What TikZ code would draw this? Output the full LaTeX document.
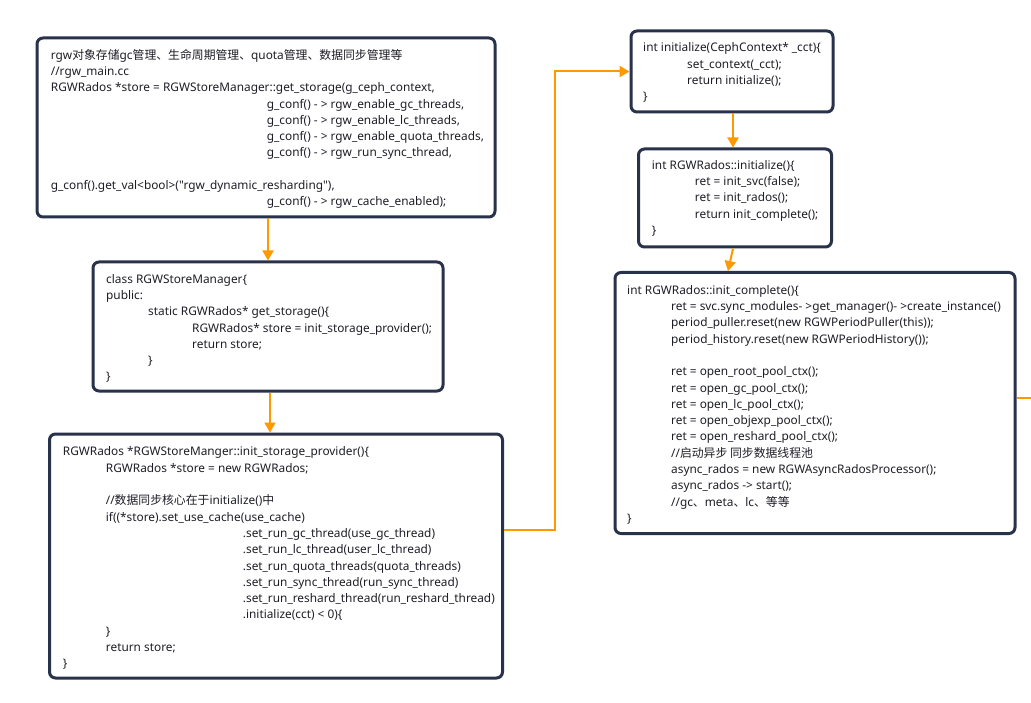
\documentclass[tikz,border=0pt]{standalone}
\usepackage{fontspec}
\setmainfont{Noto Sans}[Ligatures=TeXOff]
\newfontfamily\cjk{Noto Sans CJK SC}[Ligatures=TeXOff]
\usetikzlibrary{arrows.meta}
\definecolor{bord}{RGB}{40,50,75}
\definecolor{org}{RGB}{255,153,0}
\definecolor{txt}{RGB}{30,30,40}
\newcommand{\fl}{\rule{0pt}{11pt}}
\newcommand{\ind}[1]{\hspace*{#1pt}}
\newcommand{\zh}[1]{{\cjk #1}}
\begin{document}
\begin{tikzpicture}[x=1pt,y=-1pt,
 box/.style={draw=bord,line width=3pt,rounded corners=6pt,fill=white,inner sep=0pt},
 code/.style={anchor=north west,inner sep=0pt,align=left,text=txt,font=\fontsize{11.85}{16.3}\selectfont},
 arr/.style={draw=org,line width=2pt,-{Triangle[width=11pt,length=10pt]}},
 plain/.style={draw=org,line width=2pt}]
\useasboundingbox (0,0) rectangle (1031,703);
\fill[white] (0,0) rectangle (1031,703);

\node[box,minimum width=458pt,minimum height=179pt] (b1) at (266,127.5) {};
\node[box,minimum width=350pt,minimum height=129pt] (b2) at (268,326.5) {};
\node[box,minimum width=453pt,minimum height=244pt] (b3) at (276,556) {};
\node[box,minimum width=202pt,minimum height=81pt] (b4) at (732,71.5) {};
\node[box,minimum width=193pt,minimum height=98pt] (b5) at (735,198) {};
\node[box,minimum width=400pt,minimum height=261pt] (b6) at (815,403) {};

\node[code] (t1) at (50.7,48) {\fl rgw\zh{对象存储}gc\zh{管理、生命周期管理、}quota\zh{管理、数据同步管理等}\\
//rgw\_main.cc\\
RGWRados *store = RGWStoreManager::get\_storage(g\_ceph\_context,\\
\ind{216}g\_conf() - > rgw\_enable\_gc\_threads,\\
\ind{216}g\_conf() - > rgw\_enable\_lc\_threads,\\
\ind{216}g\_conf() - > rgw\_enable\_quota\_threads,\\
\ind{216}g\_conf() - > rgw\_run\_sync\_thread,\\
\mbox{}\\
g\_conf().get\_val<bool>("rgw\_dynamic\_resharding"),\\
\ind{216}g\_conf() - > rgw\_cache\_enabled);};

\node[code] (t2) at (106,272) {\fl class RGWStoreManager\{\\
public:\\
\ind{42}static RGWRados* get\_storage()\{\\
\ind{86}RGWRados* store = init\_storage\_provider();\\
\ind{86}return store;\\
\ind{42}\}\\
\}};

\node[code] (t3) at (62.7,444.7) {\fl RGWRados *RGWStoreManger::init\_storage\_provider()\{\\
\ind{43}RGWRados *store = new RGWRados;\\
\mbox{}\\
\ind{43}//\zh{数据同步核心在于}initialize()\zh{中}\\
\ind{43}if((*store).set\_use\_cache(use\_cache)\\
\ind{180}.set\_run\_gc\_thread(use\_gc\_thread)\\
\ind{180}.set\_run\_lc\_thread(user\_lc\_thread)\\
\ind{180}.set\_run\_quota\_threads(quota\_threads)\\
\ind{180}.set\_run\_sync\_thread(run\_sync\_thread)\\
\ind{180}.set\_run\_reshard\_thread(run\_reshard\_thread)\\
\ind{180}.initialize(cct) < 0)\{\\
\ind{43}\}\\
\ind{43}return store;\\
\}};

\node[code] (t4) at (643,40.7) {\fl int initialize(CephContext* \_cct)\{\\
\ind{44}set\_context(\_cct);\\
\ind{44}return initialize();\\
\}};

\node[code] (t5) at (651.7,158) {\fl int RGWRados::initialize()\{\\
\ind{43}ret = init\_svc(false);\\
\ind{43}ret = init\_rados();\\
\ind{43}return init\_complete();\\
\}};

\node[code] (t6) at (627,283) {\fl int RGWRados::init\_complete()\{\\
\ind{44}ret = svc.sync\_modules- >get\_manager()- >create\_instance()\\
\ind{44}period\_puller.reset(new RGWPeriodPuller(this));\\
\ind{44}period\_history.reset(new RGWPeriodHistory());\\
\mbox{}\\
\ind{44}ret = open\_root\_pool\_ctx();\\
\ind{44}ret = open\_gc\_pool\_ctx();\\
\ind{44}ret = open\_lc\_pool\_ctx();\\
\ind{44}ret = open\_objexp\_pool\_ctx();\\
\ind{44}ret = open\_reshard\_pool\_ctx();\\
\ind{44}//\zh{启动异步 同步数据线程池}\\
\ind{44}async\_rados = new RGWAsyncRadosProcessor();\\
\ind{44}async\_rados -> start();\\
\ind{44}//gc\zh{、}meta\zh{、}lc\zh{、等等}\\
\}};

\coordinate (turn) at (555,71.5);
\coordinate (out) at (1031,398);
\draw[arr] (b1.south -| b2.north) -- (b2.north);
\draw[arr] ([xshift=2pt]b2.south) -- ([xshift=2pt]b2.south |- b3.north);
\draw[arr] ([yshift=26pt]b3.east) -| (turn) -- (b4.west);
\draw[arr] ([xshift=1pt]b4.south) -- ([xshift=1pt]b4.south |- b5.north);
\draw[arr] ([xshift=-2pt]b5.south) -- ([xshift=-87pt]b6.north);
\draw[plain] ([yshift=5pt]b6.east) -- (out);
\end{tikzpicture}
\end{document}
